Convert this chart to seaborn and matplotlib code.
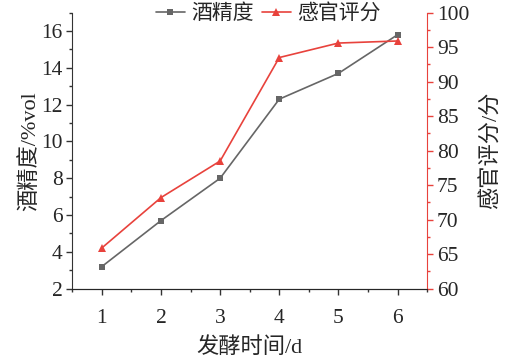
import matplotlib
matplotlib.use('Agg')
import matplotlib.pyplot as plt
import seaborn as sns
import pandas as pd
from matplotlib.ticker import MultipleLocator

days = [1, 2, 3, 4, 5, 6]
alcohol = [3.2, 5.7, 8.0, 12.3, 13.7, 15.8]
sensory = [65.9, 73.2, 78.5, 93.5, 95.6, 95.9]

df = pd.DataFrame({'day': days, 'alcohol': alcohol, 'sensory': sensory})

sns.set_style('ticks')
plt.rcParams['font.family'] = ['Liberation Serif', 'Noto Sans CJK SC']
plt.rcParams['font.size'] = 15
plt.rcParams['axes.unicode_minus'] = False

gray = '#666666'
red = '#e8423c'

fig, ax = plt.subplots(figsize=(5.06, 3.63), dpi=100)
ax2 = ax.twinx()

sns.lineplot(data=df, x='day', y='alcohol', ax=ax, color=gray, marker='s',
             markersize=5, markeredgewidth=0, linewidth=1.2, label='酒精度', legend=False)
sns.lineplot(data=df, x='day', y='sensory', ax=ax2, color=red, marker='^',
             markersize=6, markeredgewidth=0, linewidth=1.2, label='感官评分', legend=False)

ax.set_xlim(0.5, 6.5)
ax.set_ylim(2, 17)
ax2.set_ylim(60, 100)
ax.set_xticks(days)
ax.set_yticks([2, 4, 6, 8, 10, 12, 14, 16])
ax.xaxis.set_minor_locator(MultipleLocator(0.5))
ax.yaxis.set_minor_locator(MultipleLocator(1))
ax2.set_yticks([60, 65, 70, 75, 80, 85, 90, 95, 100])
ax2.yaxis.set_minor_locator(MultipleLocator(2.5))

ax.set_xlabel('发酵时间/d', fontsize=16, labelpad=6)
ax.set_ylabel('酒精度/%vol', fontsize=16, labelpad=1)
ax2.set_ylabel('感官评分/分', fontsize=16, rotation=90, labelpad=8)

for a in (ax, ax2):
    a.spines['top'].set_visible(False)
ax.spines['right'].set_visible(False)
ax2.spines['left'].set_visible(False)
ax2.spines['right'].set_color(red)
ax.spines['left'].set_color('#333333')
ax.spines['bottom'].set_color('#333333')

ax.tick_params(axis='both', which='major', length=4, width=1, color='#333333', labelsize=15.5, pad=3)
ax.tick_params(axis='both', which='minor', length=2, width=1, color='#333333')
ax.tick_params(axis='x', pad=11)
ax2.tick_params(axis='y', which='major', length=4, width=1, color=red, labelsize=15.5, pad=3)
ax2.tick_params(axis='y', which='minor', length=2, width=1, color=red)

h1, l1 = ax.get_legend_handles_labels()
h2, l2 = ax2.get_legend_handles_labels()
fig.legend(h1 + h2, l1 + l2, loc='upper center', bbox_to_anchor=(0.53, 1.04), ncol=2,
           frameon=False, fontsize=15, handlelength=1.4, handletextpad=0.3, columnspacing=0.4)

fig.subplots_adjust(left=0.143, right=0.844, top=0.965, bottom=0.205)
fig.savefig('out.png', dpi=100)
